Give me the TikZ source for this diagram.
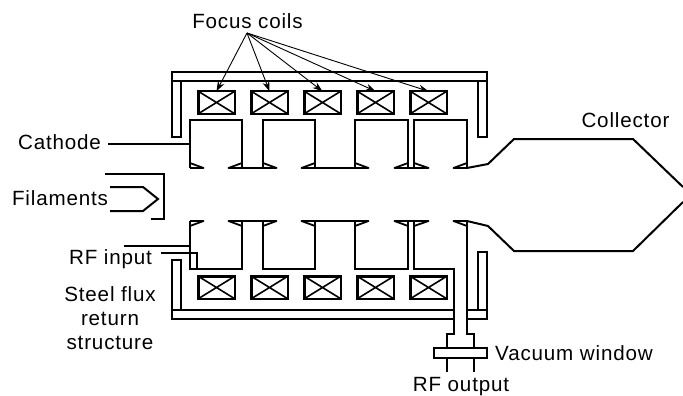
\documentclass[tikz,border=0pt]{standalone}
\usepackage{fontspec}
\setmainfont[LetterSpace=4]{Liberation Sans}
\usetikzlibrary{arrows.meta}
\tikzset{
  wall/.style={line width=2pt,line join=miter},
  nose/.style={line width=1.8pt,line join=round},
  gapline/.style={line width=1.1pt},
  steel/.style={line width=2.2pt,line join=miter},
  coil/.style={draw,line width=2.5pt,rectangle,inner sep=0pt,outer sep=0pt,minimum width=36.5pt,minimum height=22.5pt,
    path picture={\draw[line width=1.6pt] (path picture bounding box.north west)--(path picture bounding box.south east)
      (path picture bounding box.south west)--(path picture bounding box.north east);}},
  lbl/.style={font=\fontsize{20.6}{24}\selectfont,anchor=base,inner sep=0pt},
  pointer/.style={line width=0.9pt,-{Stealth[length=10pt,width=7pt]}}
}
\begin{document}
\begin{tikzpicture}[x=1pt,y=-1pt]
\useasboundingbox (0,0) rectangle (683,396);
% labels
\node[lbl] (focus) at (247.5,29) {Focus coils};
\node[lbl] (cathode) at (59.5,149) {Cathode};
\node[lbl] (filaments) at (60,205) {Filaments};
\node[lbl] (rfin) at (110.5,264) {RF input};
\node[lbl] (steel1) at (110,301) {Steel flux};
\node[lbl] (steel2) at (110,325) {return};
\node[lbl] (steel3) at (110,349) {structure};
\node[lbl] (collector) at (625.5,127) {Collector};
\node[lbl] (vacuum) at (574,360) {Vacuum window};
\node[lbl] (rfout) at (461,391.5) {RF output};
% coils
\foreach \i/\x in {1/216.5,2/269.5,3/322.5,4/375.5,5/428.5}{
  \node[coil] (ct\i) at (\x,102.5) {};
  \node[coil] (cb\i) at (\x,287.5) {};
}
% steel structure
\draw[steel] (172,72) rectangle (487,81);
\draw[steel] (172,81) rectangle (181,137);
\draw[steel] (478,81) rectangle (487,137);
\draw[steel] (454,310) -- (172,310) -- (172,319) -- (454,319);
\draw[steel] (172,310) -- (172,260) -- (181,260) -- (181,310);
\draw[steel] (467,310) -- (487,310) -- (487,319) -- (467,319);
\draw[steel] (478,310) -- (478,252) -- (487,252) -- (487,310);
% top cavities
\draw[wall] (190,168) -- (190,120) -- (242,120) -- (242,168);
\draw[wall] (263,168) -- (263,120) -- (315,120) -- (315,168);
\draw[wall] (355,168) -- (355,120) -- (408,120) -- (408,168);
\draw[wall] (414,168) -- (414,120) -- (467,120) -- (467,168);
\foreach \a/\b in {190/203.5,263/276.5,355/368.5,414/428.5,242/228.5,315/301.5,408/394.5,467/453.5}{
  \draw[nose] (\a,163) -- (\b,168) -- (\a,168);
}
\draw[gapline] (242,168) -- (263,168) (315,168) -- (355,168) (408,168) -- (414,168);
% bottom cavities
\draw[wall] (190,221) -- (190,269) -- (242,269) -- (242,221);
\draw[wall] (263,221) -- (263,269) -- (315,269) -- (315,221);
\draw[wall] (355,221) -- (355,269) -- (408,269) -- (408,221);
\draw[wall] (414,221) -- (414,269) -- (454,269) -- (454,334) -- (447,334) -- (447,348);
\draw[wall] (467,221) -- (467,334) -- (474,334) -- (474,348);
\foreach \a/\b in {190/203.5,263/276.5,355/368.5,414/428.5,242/228.5,315/301.5,408/394.5,467/453.5}{
  \draw[nose] (\a,226) -- (\b,221) -- (\a,221);
}
\draw[gapline] (242,221) -- (263,221) (315,221) -- (355,221) (408,221) -- (414,221);
% RF input / cathode leaders
\coordinate (cathEnd) at (108,144);
\coordinate (cathWall) at (190,144);
\draw[wall] (cathEnd) -- (cathWall);
\draw[wall] (124,246) -- (190,246);
\draw[wall] (161,253) -- (197,253) -- (197,269);
% filaments
\draw[wall] (105,174) -- (164,174) -- (164,219) -- (151,219);
\draw[wall] (110,187) -- (143,187) -- (158,199) -- (143,211) -- (110,211);
% collector
\draw[wall] (467,168) -- (488,164) -- (514,139) -- (633,139) -- (683,187);
\draw[wall] (467,221) -- (488,226) -- (514,251) -- (633,251) -- (683,202);
% window
\draw[steel] (434,348) rectangle (487,358);
\draw[wall] (447,358) -- (447,372) (474,358) -- (474,372);
% pointers
\coordinate (fp) at (247,33);
\draw[pointer] (fp) -- (ct1.north);
\draw[pointer] (fp) -- (ct2.north);
\draw[pointer] (fp) -- (ct3.north);
\draw[pointer] (fp) -- (ct4.north);
\draw[pointer] (fp) -- (ct5.north);
\end{tikzpicture}
\end{document}
